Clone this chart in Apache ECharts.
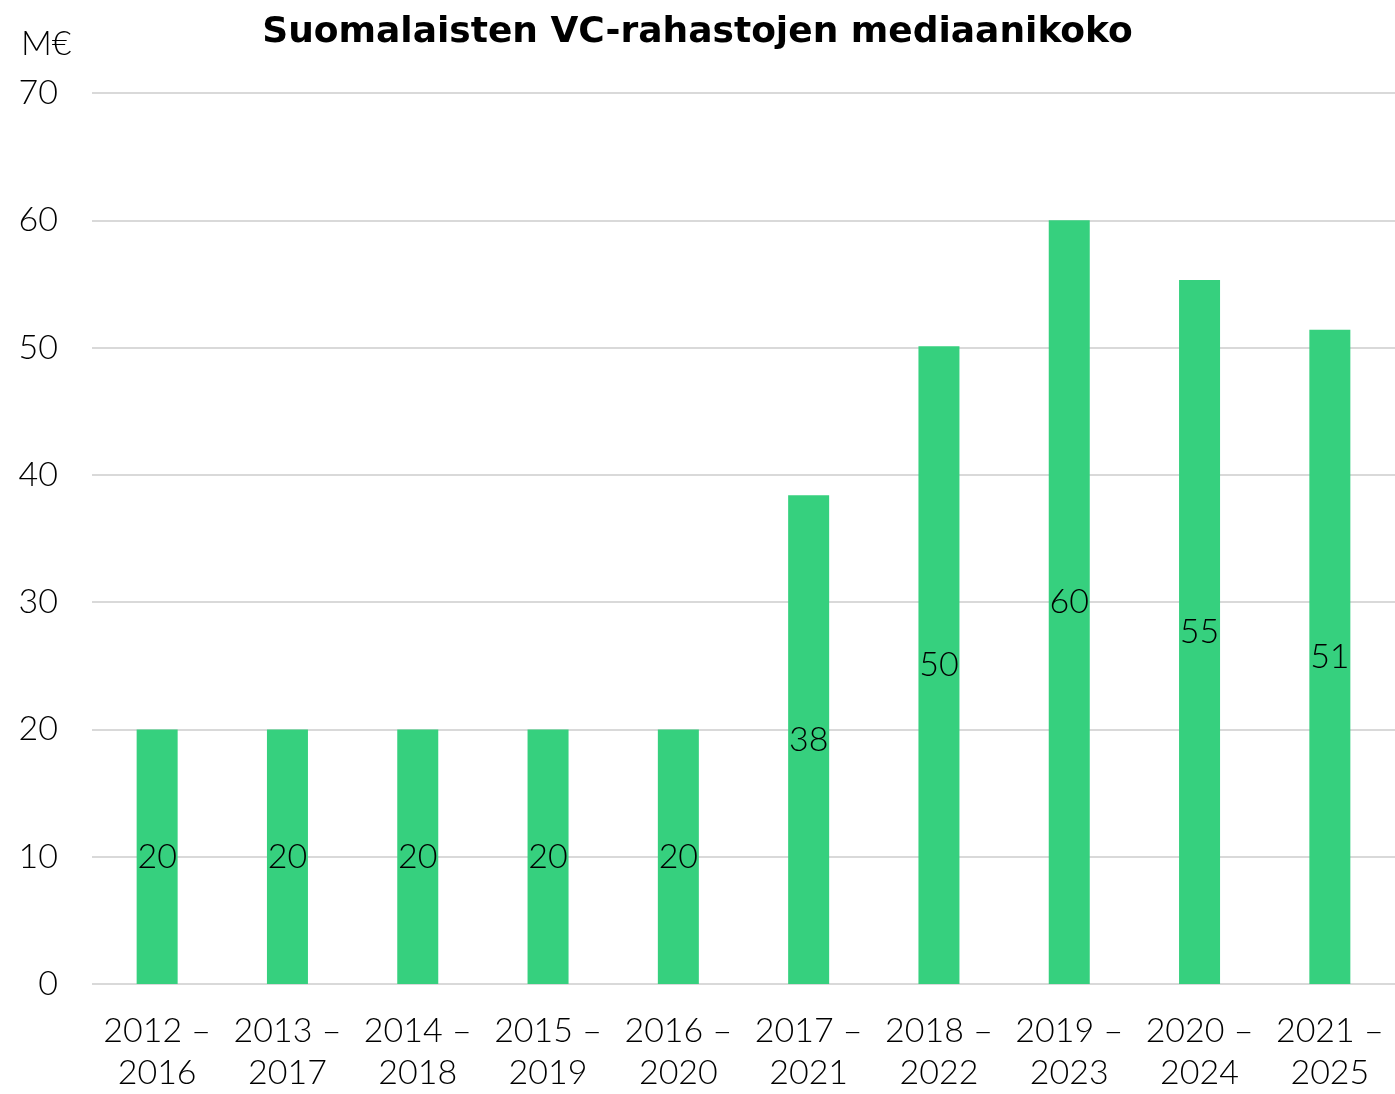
<!DOCTYPE html>
<html>
<head>
<meta charset="utf-8">
<script src="https://cdn.jsdelivr.net/npm/echarts@6/dist/echarts.min.js"></script>
<style>
  html, body { margin: 0; padding: 0; background: #fff; }
  #chart { width: 1395px; height: 1094px; }
</style>
</head>
<body>
<div id="chart"></div>
<script>
// kausien nimet (x-akseli)
var periods = ['2012 –\n2016', '2013 –\n2017', '2014 –\n2018', '2015 –\n2019', '2016 –\n2020',
    '2017 –\n2021', '2018 –\n2022', '2019 –\n2023', '2020 –\n2024', '2021 –\n2025']
// mediaanikoko, M€
var medianSize = [20, 20, 20, 20, 20, 38.4, 50.1, 60, 55.3, 51.4]

var font = 'Lato, "Noto Sans", sans-serif'
var chart = echarts.init(document.getElementById('chart'))

chart.setOption({
    animation: false,
    title: [
        {
            text: 'Suomalaisten VC-rahastojen mediaanikoko',
            left: 'center',
            top: 10,
            textStyle: { fontFamily: '"DejaVu Sans", sans-serif', fontWeight: 'bold', fontSize: 36, color: '#000' }
        },
        {
            text: 'M€',
            left: 16,
            top: 22,
            textStyle: { fontFamily: font, fontWeight: 300, fontSize: 34, color: '#000' }
        }
    ],
    grid: { left: 92, right: -11, top: 93, bottom: 104 },
    xAxis: {
        type: 'category',
        data: periods,
        axisLine: { show: false },
        axisTick: { show: false },
        axisLabel: {
            interval: 0,
            margin: 26,
            fontFamily: font,
            fontWeight: 300,
            fontSize: 34,
            lineHeight: 42,
            color: '#000'
        }
    },
    yAxis: {
        type: 'value',
        min: 0,
        max: 70,
        interval: 10,
        axisLine: { show: false },
        axisTick: { show: false },
        splitLine: { lineStyle: { color: '#d9d9d9', width: 2 } },
        axisLabel: {
            margin: 34,
            fontFamily: font,
            fontWeight: 300,
            fontSize: 34,
            color: '#000'
        }
    },
    series: [
        {
            type: 'bar',
            data: medianSize,
            barWidth: 41,
            itemStyle: { color: '#36d07e' },
            label: {
                show: true,
                position: 'inside',
                fontFamily: font,
                fontWeight: 300,
                fontSize: 34,
                color: '#000',
                formatter: function (p) { return Math.round(p.value) }
            }
        }
    ]
})
</script>
</body>
</html>
